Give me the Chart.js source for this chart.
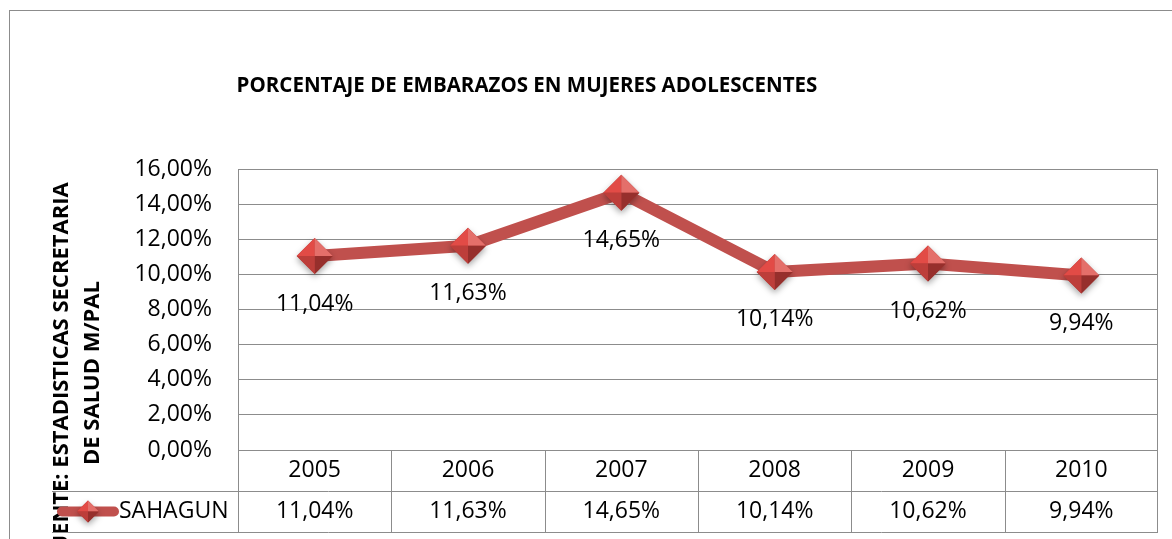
<!DOCTYPE html>
<html>
<head>
<meta charset="utf-8">
<script src="https://cdn.jsdelivr.net/npm/chart.js@4.4.1/dist/chart.umd.min.js"></script>
<style>
  html, body { margin: 0; padding: 0; background: #fff; overflow: hidden; width: 1172px; height: 539px; }
  #wrap { position: relative; width: 1190px; height: 600px; }
</style>
</head>
<body>
<div id="wrap"><canvas id="c" width="1190" height="600"></canvas></div>
<script>
/* Datos del gráfico */
const years = ['2005', '2006', '2007', '2008', '2009', '2010'];
const sahagun = [11.04, 11.63, 14.65, 10.14, 10.62, 9.94];
const seriesName = 'SAHAGUN';
const yMin = 0, yMax = 16, yStep = 2;
const chartTitle = 'PORCENTAJE DE EMBARAZOS EN MUJERES ADOLESCENTES';
const axisTitle = ['FUENTE: ESTADISTICAS SECRETARIA', 'DE SALUD M/PAL'];

const RED = '#C0504D';
const GRID = '#8c8c8c';
const FONT = '"Open Sans", "Liberation Sans", sans-serif';
const pct = v => v.toFixed(2).replace('.', ',') + '%';

/* diamante con relieve (estilo Excel) */
function bevelDiamond(ctx, x, y, r) {
  const T = [x, y - r], R = [x + r, y], B = [x, y + r], L = [x - r, y], A = [x, y];
  ctx.save();
  ctx.shadowColor = 'rgba(0,0,0,.35)'; ctx.shadowBlur = 6; ctx.shadowOffsetY = 3;
  ctx.beginPath(); ctx.moveTo(...T); ctx.lineTo(...R); ctx.lineTo(...B); ctx.lineTo(...L); ctx.closePath();
  ctx.fillStyle = '#B23C39'; ctx.fill();
  ctx.restore();
  ctx.save();
  const faces = [[L, T, '#E24B46'], [T, R, '#E46F6A'], [R, B, '#962F2C'], [B, L, '#BD3E3A']];
  faces.forEach(([p, q, col]) => {
    ctx.beginPath(); ctx.moveTo(...p); ctx.lineTo(...q); ctx.lineTo(...A); ctx.closePath();
    ctx.fillStyle = col; ctx.fill();
  });
  ctx.restore();
}

const framePlugin = {
  id: 'frame',
  beforeDraw(chart) {
    const { ctx } = chart;
    ctx.save();
    ctx.fillStyle = '#fff'; ctx.fillRect(0, 0, chart.width, chart.height);
    ctx.strokeStyle = GRID; ctx.lineWidth = 1;
    ctx.strokeRect(9.5, 10.5, chart.width - 14, chart.height - 14);
    // título
    ctx.fillStyle = '#000'; ctx.font = 'bold 20.5px ' + FONT;
    ctx.textAlign = 'center'; ctx.textBaseline = 'middle';
    ctx.fillText(chartTitle, 527, 86);
    // título eje vertical (dos líneas, girado)
    ctx.translate(0, 373); ctx.rotate(-Math.PI / 2);
    ctx.font = 'bold 22px ' + FONT;
    ctx.fillText(axisTitle[0], 0, 62);
    ctx.fillText(axisTitle[1], 0, 93);
    ctx.restore();
  },
};

const tablePlugin = {
  id: 'dataTable',
  afterDraw(chart) {
    const { ctx, chartArea: a, scales: { x } } = chart;
    const rowH = 41, top = a.bottom, mid = top + rowH, bot = top + 2 * rowH;
    const half = (x.getPixelForValue(1) - x.getPixelForValue(0)) / 2;
    ctx.save();
    ctx.strokeStyle = GRID; ctx.lineWidth = 1;
    ctx.beginPath();
    ctx.moveTo(Math.round(a.left) + .5, a.top); ctx.lineTo(Math.round(a.left) + .5, bot);
    ctx.moveTo(Math.round(a.right) - .5, a.top); ctx.lineTo(Math.round(a.right) - .5, bot);
    ctx.moveTo(a.left, Math.round(top) + .5); ctx.lineTo(a.right, Math.round(top) + .5);
    ctx.moveTo(52, Math.round(mid) + .5); ctx.lineTo(a.right, Math.round(mid) + .5);
    ctx.moveTo(52, Math.round(bot) + .5); ctx.lineTo(a.right, Math.round(bot) + .5);
    years.forEach((_, i) => {
      if (i === 0) return;
      const xx = Math.round(x.getPixelForValue(i) - half) + .5;
      ctx.moveTo(xx, top); ctx.lineTo(xx, bot);
    });
    ctx.stroke();
    ctx.fillStyle = '#000'; ctx.font = '23px ' + FONT;
    ctx.textAlign = 'center'; ctx.textBaseline = 'middle';
    years.forEach((y, i) => {
      const cx = x.getPixelForValue(i);
      ctx.fillText(y, cx, top + rowH / 2);
      ctx.fillText(pct(sahagun[i]), cx, mid + rowH / 2);
    });
    // leyenda
    ctx.strokeStyle = RED; ctx.lineWidth = 10; ctx.lineCap = 'round';
    ctx.beginPath(); ctx.moveTo(62, mid + rowH / 2); ctx.lineTo(114, mid + rowH / 2); ctx.stroke();
    bevelDiamond(ctx, 88, mid + rowH / 2, 11);
    ctx.fillStyle = '#000'; ctx.textAlign = 'left';
    ctx.fillText(seriesName, 119, mid + rowH / 2);
    ctx.restore();
  },
};

const markerPlugin = {
  id: 'markers',
  afterDatasetsDraw(chart) {
    const { ctx } = chart;
    const meta = chart.getDatasetMeta(0);
    ctx.save();
    meta.data.forEach((pt, i) => {
      bevelDiamond(ctx, pt.x, pt.y, 18);
      ctx.fillStyle = '#000'; ctx.font = '23px ' + FONT;
      ctx.textAlign = 'center'; ctx.textBaseline = 'middle';
      ctx.fillText(pct(sahagun[i]), pt.x, pt.y + 48);
    });
    ctx.restore();
  },
};

new Chart(document.getElementById('c'), {
  type: 'line',
  data: {
    labels: years,
    datasets: [{
      label: seriesName, data: sahagun,
      borderColor: RED, backgroundColor: RED, borderWidth: 12,
      pointRadius: 0, tension: 0, borderJoinStyle: 'round',
    }],
  },
  options: {
    responsive: false, animation: false, devicePixelRatio: 1,
    layout: { padding: { left: 118, top: 169, right: 32, bottom: 150 } },
    plugins: { legend: { display: false }, tooltip: { enabled: false }, title: { display: false } },
    scales: {
      x: { display: false, offset: true },
      y: {
        min: yMin, max: yMax,
        afterFit(axis) { axis.width = 120; },
        ticks: { stepSize: yStep, callback: v => pct(v), color: '#000', font: { family: FONT, size: 23 }, padding: 26 },
        grid: { color: GRID, drawTicks: false },
        border: { display: false },
      },
    },
  },
  plugins: [framePlugin, tablePlugin, markerPlugin],
});
</script>
</body>
</html>
